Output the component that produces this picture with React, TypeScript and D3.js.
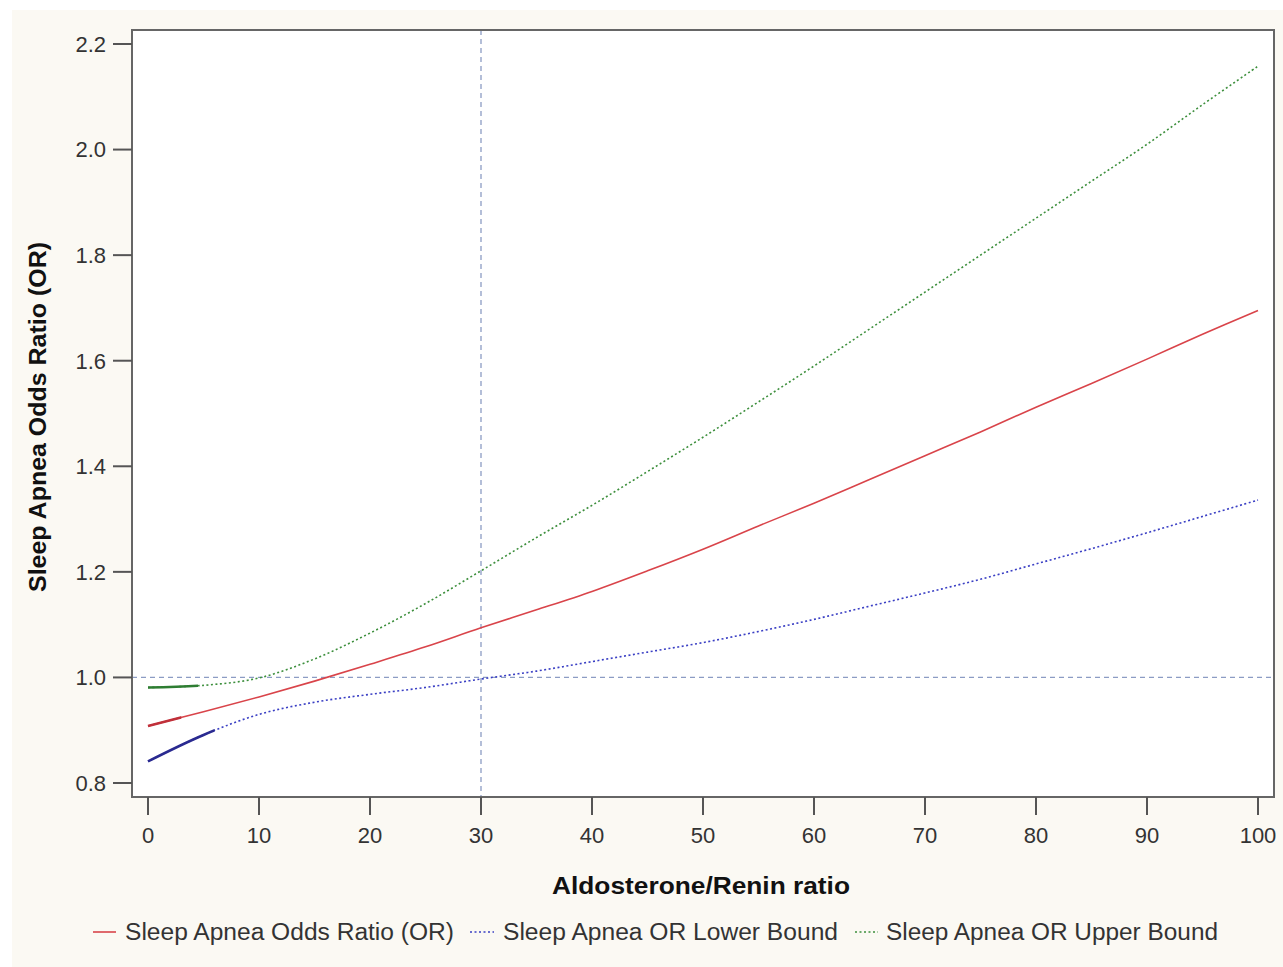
import React from "react";
import * as d3 from "d3";

const xValues = [0, 5, 10, 15, 20, 25, 30, 35, 40, 45, 50, 55, 60, 65, 70, 75, 80, 85, 90, 95, 100];
const orValues = [0.908, 0.935, 0.963, 0.993, 1.025, 1.058, 1.094, 1.128, 1.163, 1.202, 1.243, 1.287, 1.330, 1.375, 1.420, 1.465, 1.512, 1.557, 1.603, 1.650, 1.695];
const lowerValues = [0.841, 0.891, 0.930, 0.953, 0.968, 0.981, 0.997, 1.012, 1.030, 1.048, 1.066, 1.087, 1.110, 1.135, 1.160, 1.186, 1.215, 1.244, 1.274, 1.305, 1.336];
const upperValues = [0.981, 0.985, 0.999, 1.035, 1.084, 1.140, 1.202, 1.265, 1.326, 1.390, 1.455, 1.522, 1.590, 1.660, 1.730, 1.800, 1.870, 1.940, 2.010, 2.085, 2.158];
const xTicks = [0, 10, 20, 30, 40, 50, 60, 70, 80, 90, 100];
const yTicks = [0.8, 1.0, 1.2, 1.4, 1.6, 1.8, 2.0, 2.2];
const refX = 30;
const refY = 1.0;
const seriesNames = ["Sleep Apnea Odds Ratio (OR)", "Sleep Apnea OR Lower Bound", "Sleep Apnea OR Upper Bound"];
const xTitle = "Aldosterone/Renin ratio";
const yTitle = "Sleep Apnea Odds Ratio (OR)";

const W = 1283;
const H = 967;
const frame = { left: 132, right: 1274, top: 30, bottom: 797 };

export default function App() {
  const x = d3.scaleLinear().domain([0, 100]).range([148, 1258]);
  const y = d3.scaleLinear().domain([0.8, 2.2]).range([783, 44]);
  const font = "'Liberation Sans', Arial, sans-serif";

  const mk = (vals: number[]) =>
    d3
      .line<number>()
      .x((_, i) => x(xValues[i]))
      .y((d) => y(d))
      .curve(d3.curveCatmullRom.alpha(0.5))(vals) || "";

  const series = [
    { vals: orValues, color: "#d9444a", dark: "#c0303a", dash: null as string | null, width: 1.6, solidTo: 3 },
    { vals: lowerValues, color: "#3a3fc4", dark: "#2a2a90", dash: "2,2.5", width: 1.6, solidTo: 6 },
    { vals: upperValues, color: "#3d8f3d", dark: "#2e7d32", dash: "2,2.5", width: 1.6, solidTo: 4.5 },
  ];

  const legend = [
    { lx1: 93, lx2: 116, tx: 125, tw: 329 },
    { lx1: 470, lx2: 494, tx: 503, tw: 335 },
    { lx1: 855, lx2: 878, tx: 886, tw: 332 },
  ];

  return (
    <svg width={W} height={H} style={{ position: "absolute", left: 0, top: 0 }} fontFamily={font}>
      <defs>
        {series.map((s, i) => (
          <clipPath id={`start-${i}`} key={i}>
            <rect x={frame.left} y={frame.top} width={x(s.solidTo) - frame.left} height={frame.bottom - frame.top} />
          </clipPath>
        ))}
      </defs>
      <rect x={0} y={0} width={W} height={H} fill="#ffffff" />
      <rect x={12} y={10} width={W - 12} height={H - 10} fill="#fbf9f3" />
      <rect
        x={frame.left}
        y={frame.top}
        width={frame.right - frame.left}
        height={frame.bottom - frame.top}
        fill="#ffffff"
      />
      {/* reference lines */}
      <line x1={frame.left} x2={frame.right} y1={y(refY)} y2={y(refY)} stroke="#8c9cc4" strokeWidth={1.3} strokeDasharray="5,4" />
      <line x1={x(refX)} x2={x(refX)} y1={frame.top} y2={frame.bottom} stroke="#8c9cc4" strokeWidth={1.3} strokeDasharray="5,4" />
      {/* curves */}
      {series.map((s, i) => (
        <g key={i}>
          <path
            d={mk(s.vals)}
            fill="none"
            stroke={s.color}
            strokeWidth={s.width}
            strokeDasharray={s.dash || undefined}
          />
          <path d={mk(s.vals)} fill="none" stroke={s.dark} strokeWidth={2.6} clipPath={`url(#start-${i})`} />
        </g>
      ))}
      {/* frame */}
      <rect
        x={frame.left}
        y={frame.top}
        width={frame.right - frame.left}
        height={frame.bottom - frame.top}
        fill="none"
        stroke="#666666"
        strokeWidth={2}
      />
      {/* y axis ticks */}
      {yTicks.map((t) => (
        <g key={t}>
          <line x1={113} x2={frame.left} y1={y(t)} y2={y(t)} stroke="#555555" strokeWidth={2} />
          <text x={106} y={y(t)} dy="0.36em" textAnchor="end" fontSize={22} fill="#333333">
            {t.toFixed(1)}
          </text>
        </g>
      ))}
      {/* x axis ticks */}
      {xTicks.map((t) => (
        <g key={t}>
          <line x1={x(t)} x2={x(t)} y1={frame.bottom} y2={815} stroke="#555555" strokeWidth={2} />
          <text x={x(t)} y={835} dy="0.36em" textAnchor="middle" fontSize={22} fill="#333333">
            {t}
          </text>
        </g>
      ))}
      {/* axis titles */}
      <text
        x={701}
        y={886}
        dy="0.36em"
        textAnchor="middle"
        fontSize={23}
        fontWeight="bold"
        fill="#111111"
        textLength={298}
        lengthAdjust="spacingAndGlyphs"
      >
        {xTitle}
      </text>
      <text
        transform={`translate(38,417) rotate(-90)`}
        textAnchor="middle"
        dy="0.36em"
        fontSize={23}
        fontWeight="bold"
        fill="#111111"
        textLength={350}
        lengthAdjust="spacingAndGlyphs"
      >
        {yTitle}
      </text>
      {/* legend */}
      {legend.map((l, i) => (
        <g key={i}>
          <line
            x1={l.lx1}
            x2={l.lx2}
            y1={932}
            y2={932}
            stroke={series[i].color}
            strokeWidth={1.6}
            strokeDasharray={series[i].dash || undefined}
          />
          <text
            x={l.tx}
            y={932}
            dy="0.36em"
            fontSize={23}
            fill="#333333"
            textLength={l.tw}
            lengthAdjust="spacingAndGlyphs"
          >
            {seriesNames[i]}
          </text>
        </g>
      ))}
    </svg>
  );
}
